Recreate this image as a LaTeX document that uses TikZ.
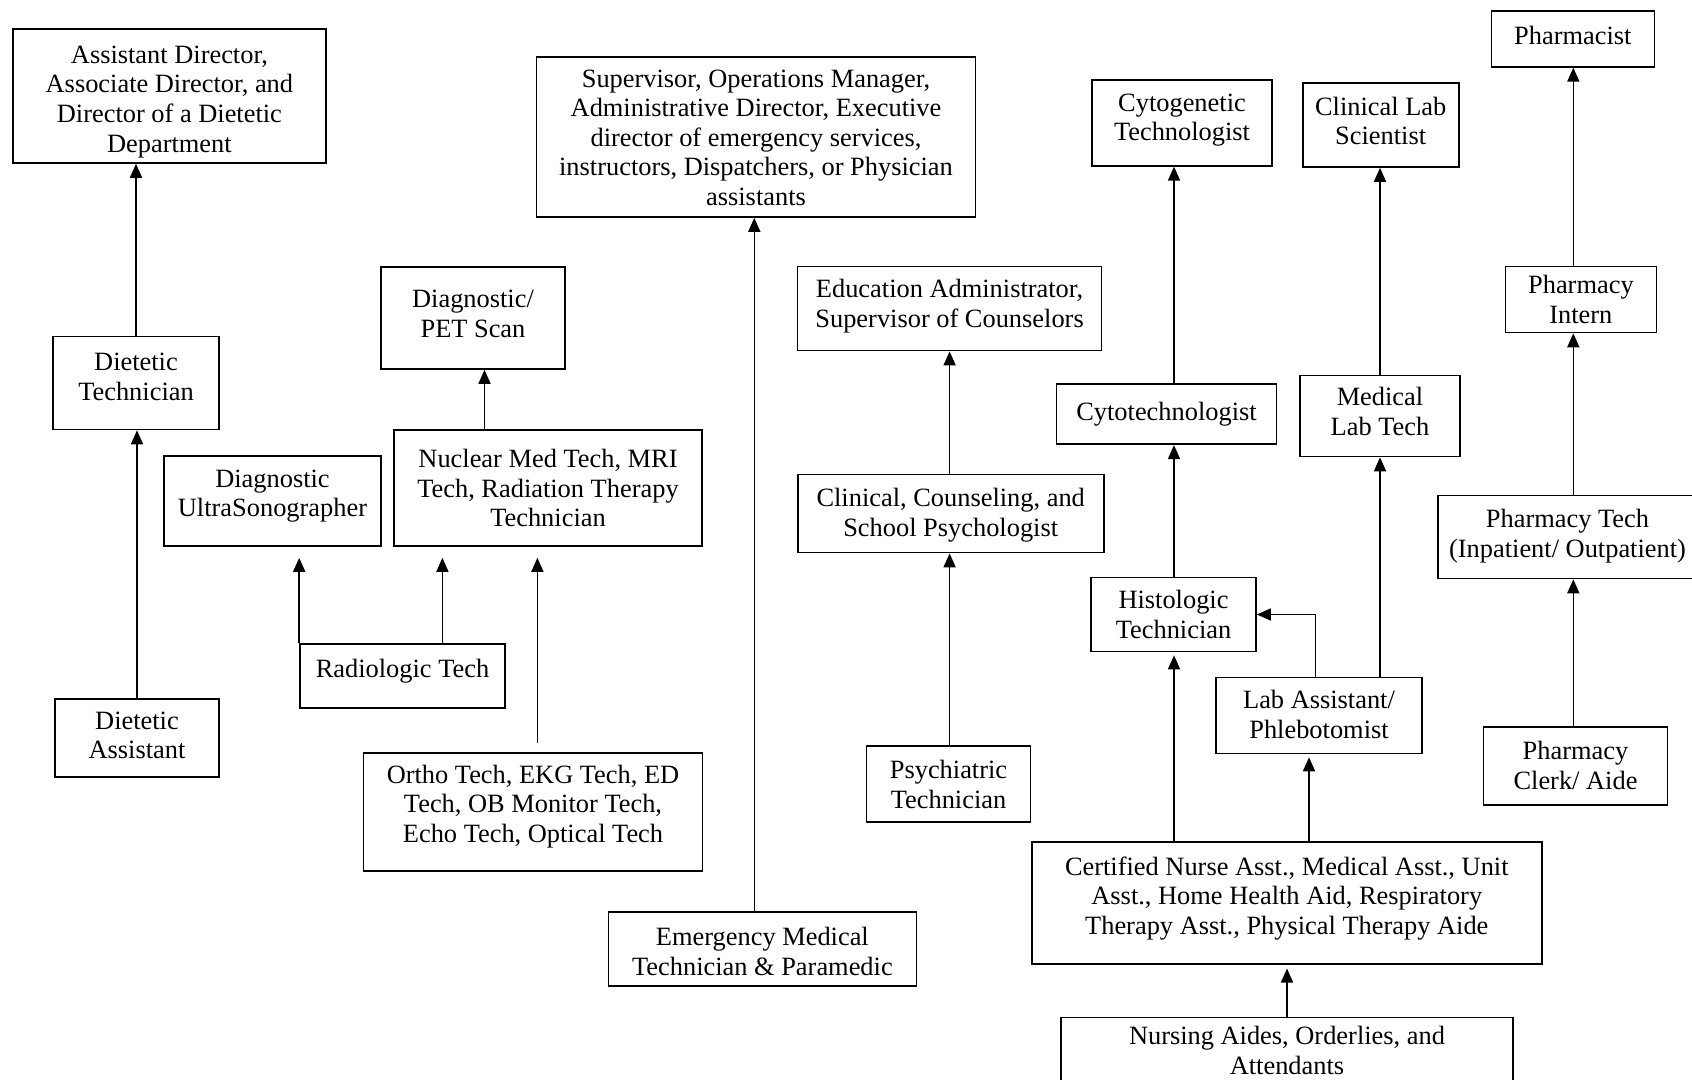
\documentclass[tikz,border=0pt]{standalone}
\usepackage{fontspec}
\setmainfont{Liberation Serif}
\usetikzlibrary{arrows.meta}

\begin{document}
\begin{tikzpicture}[x=0.5pt, y=-0.5pt, box/.style={draw, line width=0.8pt, align=flush center, inner sep=1pt, text height=14.6pt, font=\fontsize{13.2}{14.8}\selectfont}, arr/.style={-{Triangle[length=7pt,width=6pt]}, line width=0.8pt}]
\useasboundingbox (0,0) rectangle (1692,1080);
% dietetics
\node[box, text width=154.5pt, text height=16.2pt, text depth=48.8pt] (adir) at (169.4,96) {Assistant Director,\\Associate Director, and\\Director of a Dietetic\\Department};
\node[box, text width=81pt, text height=16.2pt, text depth=28.3pt] (dtech) at (136,383) {Dietetic\\Technician};
\node[box, text width=80pt, text height=14.1pt, text depth=22.9pt] (dasst) at (137,738) {Dietetic\\Assistant};
% imaging
\node[box, text width=90pt, text height=19.5pt, text depth=29.5pt] (pet) at (473,318) {Diagnostic/\\PET Scan};
\node[box, text width=106.5pt, text depth=28.4pt] (ultra) at (272.5,501) {Diagnostic\\UltraSonographer};
\node[box, text width=152pt, text height=17.9pt, text depth=38.1pt] (nuc) at (548,488) {Nuclear Med Tech, MRI\\Tech, Radiation Therapy\\Technician};
\node[box, text width=100.5pt, text height=15.7pt, text depth=14.3pt] (rad) at (402.5,676) {Radiologic Tech};
\node[box, text width=167.5pt, text height=14.1pt, text depth=42.9pt] (ortho) at (533,812) {Ortho Tech, EKG Tech, ED\\Tech, OB Monitor Tech,\\Echo Tech, Optical Tech};
% emergency
\node[box, text width=217.5pt, text height=14.1pt, text depth=63.9pt] (sup) at (756,137) {Supervisor, Operations Manager,\\Administrative Director, Executive\\director of emergency services,\\instructors, Dispatchers, or Physician\\assistants};
\node[box, text width=152pt, text height=15.7pt, text depth=19.3pt] (emt) at (762.4,949) {Emergency Medical\\Technician \& Paramedic};
% psychology
\node[box, text width=150pt, text depth=25.4pt] (edu) at (949.6,308.6) {Education Administrator,\\Supervisor of Counselors};
\node[box, text width=151pt, text height=15.2pt, text depth=21.8pt] (clin) at (950.7,513.6) {Clinical, Counseling, and\\School Psychologist};
\node[box, text width=80pt, text height=15.2pt, text depth=20.8pt] (psych) at (948.5,784) {Psychiatric\\Technician};
% laboratory
\node[box, text width=88pt, text depth=26.2pt] (cytog) at (1182,123) {Cytogenetic\\Technologist};
\node[box, text width=108pt, text height=17.3pt, text depth=10.7pt] (cytot) at (1166.5,414.3) {Cytotechnologist};
\node[box, text width=80.5pt, text depth=20.4pt] (histo) at (1173.5,614.5) {Histologic\\Technician};
\node[box, text width=76pt, text height=15.2pt, text depth=24.8pt] (clinlab) at (1380.7,125) {Clinical Lab\\Scientist};
\node[box, text width=78pt, text height=14.1pt, text depth=24.4pt] (medlab) at (1380,416) {Medical\\Lab Tech};
\node[box, text width=101pt, text depth=21.4pt] (lab) at (1319,715.5) {Lab Assistant/\\Phlebotomist};
\node[box, text width=253pt, text height=15.7pt, text depth=43.3pt] (cna) at (1286.8,902.7) {Certified Nurse Asst., Medical Asst., Unit\\Asst., Home Health Aid, Respiratory\\Therapy Asst., Physical Therapy Aide};
\node[box, text width=224pt, text height=12.5pt, text depth=30.5pt] (aides) at (1287,1062.5) {Nursing Aides, Orderlies, and\\Attendants};
% pharmacy
\node[box, text width=79.5pt, text height=15.7pt, text depth=10.3pt] (pharm) at (1572.8,38.9) {Pharmacist};
\node[box, text width=73.5pt, text height=12.5pt, text depth=18.5pt] (intern) at (1580.9,299.5) {Pharmacy\\Intern};
\node[box, text width=127.5pt, text height=15.2pt, text depth=24.3pt] (ptech) at (1567.5,537) {Pharmacy Tech\\(Inpatient/ Outpatient)};
\node[box, text width=90pt, text height=15.2pt, text depth=21.8pt] (clerk) at (1575.5,766) {Pharmacy\\Clerk/ Aide};

\path[arr]
(dasst.north) edge (dasst.north |- dtech.south)
(dtech.north) edge (dtech.north |- adir.south)
(484.5,0 |- nuc.north) edge (484.5,0 |- pet.south)
(rad.north west) edge[shorten >=5.5pt] (rad.north west |- ultra.south)
(442.4,0 |- rad.north) edge[shorten >=5.5pt] (442.4,0 |- nuc.south)
(537.4,0 |- ortho.north) edge[shorten <=4.5pt, shorten >=5.5pt] (537.4,0 |- nuc.south)
(754.3,0 |- emt.north) edge (754.3,0 |- sup.south)
(949.6,0 |- psych.north) edge (949.6,0 |- clin.south)
(949.6,0 |- clin.north) edge (949.6,0 |- edu.south)
(1174,0 |- cna.north) edge[shorten >=1.5pt] (1174,0 |- histo.south)
(1174,0 |- histo.north) edge (1174,0 |- cytot.south)
(1174,0 |- cytot.north) edge (1174,0 |- cytog.south)
(1309,0 |- cna.north) edge[shorten >=1.5pt] (1309,0 |- lab.south)
(medlab.south |- lab.north) edge (medlab.south)
(medlab.north) edge (medlab.north |- clinlab.south)
(aides.north) edge[shorten >=2pt] (aides.north |- cna.south)
(1573.3,0 |- clerk.north) edge (1573.3,0 |- ptech.south)
(1573.3,0 |- ptech.north) edge (1573.3,0 |- intern.south)
(1573.3,0 |- intern.north) edge (1573.3,0 |- pharm.south);
\draw[arr] (1315.4,0 |- lab.north) |- (histo.east);
\end{tikzpicture}
\end{document}
